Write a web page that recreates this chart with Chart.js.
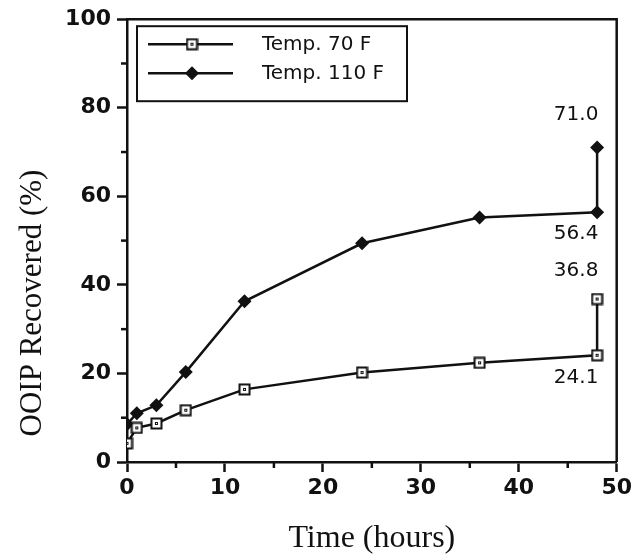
<!DOCTYPE html>
<html lang="en">
<head>
<meta charset="UTF-8">
<title>OOIP Recovered vs Time</title>
<script src="https://cdn.jsdelivr.net/npm/chart.js"></script>
<style>
  html, body { margin: 0; padding: 0; background: #fff; }
  #chartBox { width: 635px; height: 559px; }
</style>
</head>
<body>
<div id="chartBox"><canvas id="recoveryChart" width="635" height="559"></canvas></div>
<script>
    // measurement times (hours) and recovery (%) for each temperature
    const hours70 = [0, 1, 3, 6, 12, 24, 36, 48, 48];
    const recovered70 = [4.2, 7.7, 8.7, 11.7, 16.4, 20.2, 22.4, 24.1, 36.8];
    const hours110 = [0, 1, 3, 6, 12, 24, 36, 48, 48];
    const recovered110 = [8.5, 11, 12.8, 20.3, 36.3, 49.4, 55.2, 56.4, 71.0];
    const seriesNames = ['Temp. 70 F', 'Temp. 110 F'];
    const xMinorTicks = [5, 15, 25, 35, 45];
    const yMinorTicks = [10, 30, 50, 70, 90];
    // values written beside the last points
    const noteHours = [48, 48, 48, 48];
    const noteValues = [71.0, 56.4, 36.8, 24.1];
    const yTitle = 'OOIP Recovered (%)';

    const black = '#111';

    // open square with a small dot, like the scanned markers
    function squareMarker() {
        const c = document.createElement('canvas');
        c.width = 13; c.height = 13;
        const g = c.getContext('2d');
        g.fillStyle = '#fff';
        g.fillRect(1, 1, 11, 11);
        g.strokeStyle = black;
        g.lineWidth = 2;
        g.strokeRect(1.5, 1.5, 10, 10);
        g.fillStyle = black;
        g.fillRect(5, 5, 3, 3);
        g.fillStyle = '#fff';
        g.fillRect(6, 6, 1, 1);
        return c;
    }
    const squareImg = squareMarker();

    function toPoints(xs, ys) {
        return xs.map((x, i) => ({ x: x, y: ys[i] }));
    }

    const extras = {
        id: 'extras',
        afterDraw(chart) {
            const ctx = chart.ctx;
            const area = chart.chartArea;
            const xs = chart.scales.x;
            const ys = chart.scales.y;
            ctx.save();
            ctx.strokeStyle = black;
            ctx.lineWidth = 2.5;
            // top and right frame
            ctx.beginPath();
            ctx.moveTo(area.left, area.top);
            ctx.lineTo(area.right, area.top);
            ctx.lineTo(area.right, area.bottom);
            ctx.stroke();
            // minor ticks
            xMinorTicks.forEach(v => {
                const px = xs.getPixelForValue(v);
                ctx.beginPath();
                ctx.moveTo(px, area.bottom);
                ctx.lineTo(px, area.bottom + 6);
                ctx.stroke();
            });
            yMinorTicks.forEach(v => {
                const py = ys.getPixelForValue(v);
                ctx.beginPath();
                ctx.moveTo(area.left - 6, py);
                ctx.lineTo(area.left, py);
                ctx.stroke();
            });

            // y axis title, sits lower than centre in the original
            ctx.fillStyle = black;
            ctx.save();
            ctx.translate(41, 303);
            ctx.rotate(-Math.PI / 2);
            ctx.font = '31px "Liberation Serif"';
            ctx.textAlign = 'center';
            ctx.textBaseline = 'alphabetic';
            ctx.fillText(yTitle, 0, 0);
            ctx.restore();

            // value notes
            ctx.font = '20px "DejaVu Sans"';
            ctx.textAlign = 'center';
            ctx.textBaseline = 'middle';
            const shifts = [-33, 22, -28, 23];
            noteValues.forEach((v, i) => {
                const px = xs.getPixelForValue(noteHours[i]);
                const py = ys.getPixelForValue(v);
                ctx.fillText(v.toFixed(1), px - 21, py + shifts[i]);
            });

            // legend box
            const lx = area.left + 10, ly = area.top + 7;
            ctx.lineWidth = 2;
            ctx.strokeRect(lx, ly, 270, 75);
            const rows = [ly + 18, ly + 47];
            ctx.lineWidth = 2.5;
            rows.forEach((ry, i) => {
                ctx.beginPath();
                ctx.moveTo(lx + 11, ry);
                ctx.lineTo(lx + 96, ry);
                ctx.stroke();
                if (i === 0) {
                    ctx.drawImage(squareImg, lx + 55 - 6.5, ry - 6.5);
                } else {
                    ctx.beginPath();
                    ctx.moveTo(lx + 55, ry - 7);
                    ctx.lineTo(lx + 62, ry);
                    ctx.lineTo(lx + 55, ry + 7);
                    ctx.lineTo(lx + 48, ry);
                    ctx.closePath();
                    ctx.fill();
                }
                ctx.textAlign = 'left';
                ctx.fillText(seriesNames[i], lx + 125, ry + 1);
            });
            ctx.restore();
        }
    };

    const ctx = document.getElementById('recoveryChart').getContext('2d');
    const recoveryChart = new Chart(ctx, {
        type: 'line',
        data: {
            datasets: [{
                label: seriesNames[0],
                data: toPoints(hours70, recovered70),
                borderColor: black,
                borderWidth: 2.5,
                pointStyle: squareImg,
                pointRadius: 6,
                tension: 0
            }, {
                label: seriesNames[1],
                data: toPoints(hours110, recovered110),
                borderColor: black,
                backgroundColor: black,
                borderWidth: 2.5,
                pointStyle: 'rectRot',
                pointRadius: 7,
                pointBorderWidth: 0,
                tension: 0
            }]
        },
        options: {
            responsive: false,
            animation: false,
            layout: { padding: { top: 18, right: 16, left: 0, bottom: 0 } },
            plugins: {
                legend: { display: false },
                tooltip: { enabled: false }
            },
            scales: {
                x: {
                    type: 'linear',
                    min: 0,
                    max: 50,
                    ticks: {
                        stepSize: 10,
                        color: black,
                        padding: 3,
                        font: { family: 'DejaVu Sans', size: 22, weight: 'bold' }
                    },
                    grid: { drawOnChartArea: false, tickLength: 10, tickWidth: 2.5, tickColor: black },
                    border: { color: black, width: 2.5 },
                    title: {
                        display: true,
                        text: 'Time (hours)',
                        color: black,
                        font: { family: 'Liberation Serif', size: 32 },
                        padding: { top: 0, bottom: 1 }
                    },
                    afterFit(scale) { scale.height = 97; }
                },
                y: {
                    min: 0,
                    max: 100,
                    ticks: {
                        stepSize: 20,
                        color: black,
                        padding: 6,
                        font: { family: 'DejaVu Sans', size: 22, weight: 'bold' }
                    },
                    grid: { drawOnChartArea: false, tickLength: 10, tickWidth: 2.5, tickColor: black },
                    border: { color: black, width: 2.5 },
                    afterFit(scale) { scale.width = 127; }
                }
            }
        },
        plugins: [extras]
    });
</script>
</body>
</html>
